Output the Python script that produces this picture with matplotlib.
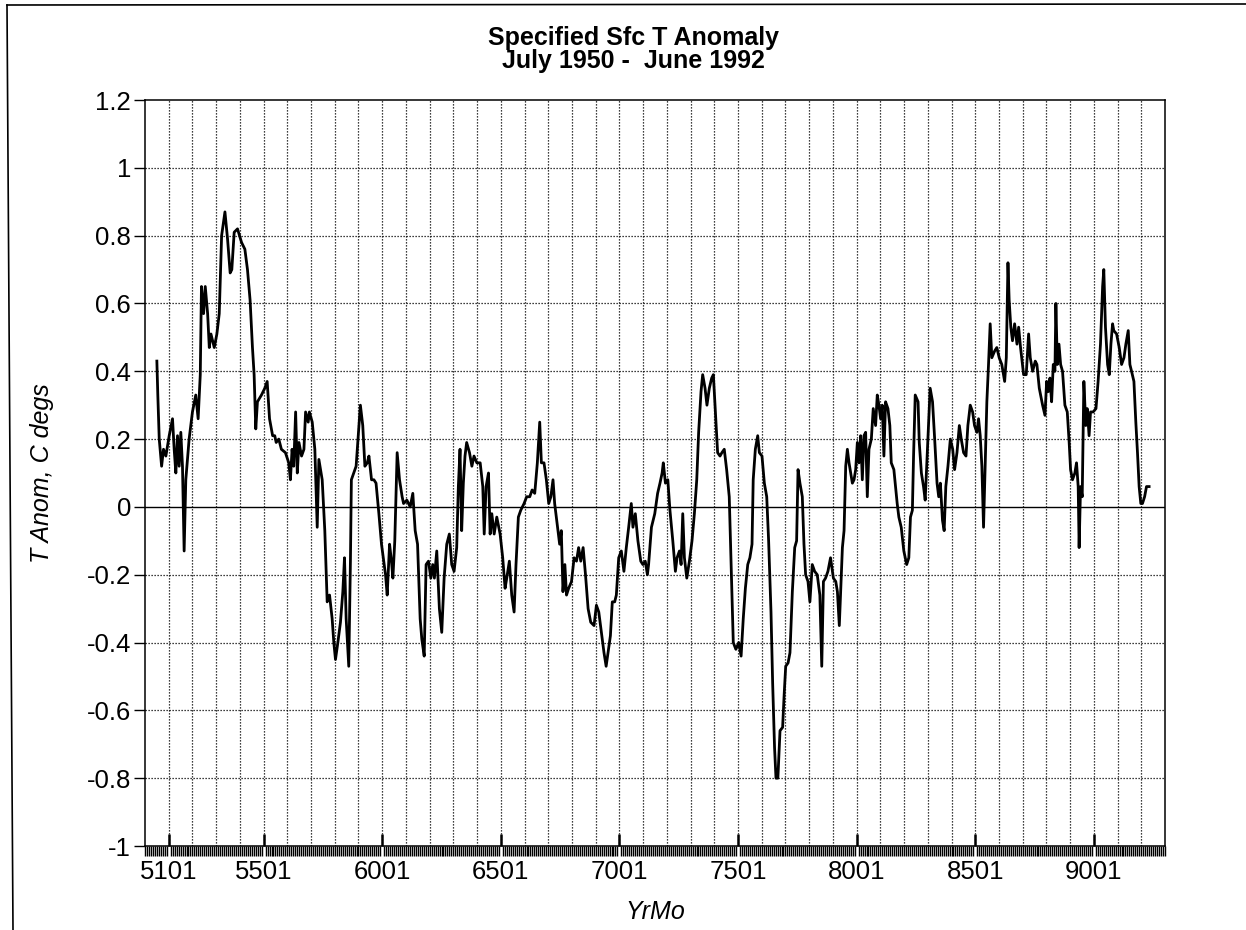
"""Specified surface T anomaly, July 1950 - June 1992 (monthly series)."""

import numpy as np
import matplotlib
matplotlib.use("Agg")
import matplotlib.pyplot as plt
from matplotlib.lines import Line2D

# decimal year / anomaly pairs
yr=[1950.50,1950.54,1950.60,1950.70,1950.78,1950.88,1951.02,1951.16,1951.23,1951.30,
    1951.37,1951.44,1951.51,1951.58,1951.65,1951.72,1951.86,1952.00,1952.14,1952.24,
    1952.33,1952.38,1952.47,1952.54,1952.64,1952.71,1952.78,1952.92,1953.03,1953.13,
    1953.23,1953.37,1953.48,1953.59,1953.66,1953.76,1953.90,1954.07,1954.21,1954.32,
    1954.43,1954.53,1954.60,1954.67,1954.74,1954.91,1955.05,1955.15,1955.25,1955.38,
    1955.47,1955.53,1955.64,1955.75,1955.92,1956.06,1956.13,1956.20,1956.27,1956.35,
    1956.42,1956.49,1956.60,1956.70,1956.77,1956.88,1956.93,1957.05,1957.16,1957.26,
    1957.33,1957.47,1957.58,1957.68,1957.78,1957.89,1957.96,1958.03,1958.13,1958.24,
    1958.34,1958.41,1958.48,1958.59,1958.66,1958.70,1958.80,1958.90,1958.99,1959.08,
    1959.18,1959.27,1959.37,1959.44,1959.55,1959.65,1959.74,1959.86,1959.97,1960.14,
    1960.21,1960.31,1960.39,1960.45,1960.53,1960.63,1960.73,1960.84,
    1960.90,1961.04,1961.18,1961.29,1961.39,1961.49,1961.60,1961.67,1961.77,1961.85,
    1961.95,1962.05,1962.13,1962.20,1962.30,1962.41,1962.51,1962.61,1962.72,1962.83,
    1962.93,1963.03,1963.14,1963.21,1963.28,1963.35,1963.42,1963.49,1963.56,1963.68,
    1963.78,1963.87,1963.99,1964.13,1964.24,1964.30,1964.38,1964.48,1964.55,1964.62,
    1964.72,1964.83,1964.97,1965.08,1965.18,1965.25,1965.36,1965.46,1965.56,1965.64,
    1965.74,1965.84,1965.98,1966.09,
    1966.22,1966.32,1966.43,1966.54,1966.64,1966.71,1966.82,1966.92,1967.02,1967.11,
    1967.20,1967.27,1967.39,1967.48,1967.55,1967.62,1967.70,1967.77,1967.86,1967.98,
    1968.09,1968.19,1968.28,1968.37,1968.47,1968.57,1968.68,1968.79,1968.93,1969.03,
    1969.13,1969.24,1969.35,1969.44,1969.52,1969.62,1969.70,1969.80,1969.87,1969.97,
    1970.08,1970.19,1970.29,1970.39,1970.50,1970.57,1970.67,1970.78,1970.90,1970.99,
    1971.09,1971.18,1971.23,1971.35,1971.49,
    1971.61,1971.71,1971.80,1971.85,1971.94,1972.04,1972.13,1972.25,1972.36,1972.43,
    1972.53,1972.60,1972.67,1972.74,1972.84,1972.95,1973.06,1973.16,1973.26,1973.34,
    1973.44,1973.51,1973.61,1973.69,1973.79,1973.89,1973.96,1974.04,1974.14,1974.24,
    1974.32,1974.42,1974.52,1974.63,1974.72,1974.80,1974.91,1975.03,1975.13,1975.22,
    1975.31,1975.41,1975.50,1975.59,1975.64,1975.73,1975.83,1975.90,1976.01,1976.11,
    1976.21,1976.29,1976.39,1976.46,1976.54,1976.60,1976.68,1976.77,1976.88,1976.94,
    1977.01,1977.11,1977.19,1977.29,1977.39,1977.47,1977.53,1977.61,1977.71,1977.78,
    1977.85,1977.95,1978.03,1978.13,1978.23,1978.34,1978.45,1978.53,1978.60,1978.69,
    1978.79,1978.90,1979.02,1979.12,1979.19,1979.27,1979.33,1979.40,1979.47,1979.54,
    1979.61,1979.68,1979.75,1979.82,1979.89,1979.96,1980.03,1980.10,1980.17,1980.24,
    1980.31,1980.38,1980.45,1980.52,1980.62,1980.70,1980.80,1980.87,1980.94,1981.01,
    1981.08,1981.15,1981.22,1981.32,1981.40,1981.46,1981.57,1981.64,1981.71,1981.78,
    1981.88,1981.99,1982.11,1982.20,1982.27,1982.35,
    1982.40,1982.47,1982.59,1982.64,1982.73,1982.82,1982.89,1982.96,1983.03,1983.10,
    1983.20,1983.29,1983.39,1983.46,1983.53,1983.62,1983.69,1983.76,1983.85,1983.95,
    1984.05,1984.13,1984.23,1984.33,1984.41,1984.51,1984.61,1984.69,1984.79,1984.89,
    1984.97,1985.07,1985.14,1985.21,1985.28,1985.35,1985.42,1985.49,1985.56,1985.63,
    1985.70,1985.82,1985.91,1986.01,1986.12,1986.24,1986.31,1986.38,1986.43,1986.50,
    1986.57,1986.66,1986.76,1986.83,1986.91,1987.04,1987.15,1987.25,1987.32,1987.42,
    1987.53,1987.60,1987.70,1987.81,
    1987.84,1987.94,1988.01,1988.08,1988.15,1988.22,1988.29,1988.36,1988.40,1988.46,
    1988.53,1988.60,1988.68,1988.78,1988.88,1988.96,1989.02,1989.10,1989.20,1989.27,
    1989.34,1989.38,1989.44,1989.51,1989.58,1989.66,1989.72,1989.80,1989.86,1989.97,
    1990.09,1990.18,1990.28,1990.37,1990.42,1990.49,1990.58,1990.65,1990.72,1990.79,
    1990.84,1990.96,1991.07,1991.17,1991.27,1991.35,1991.45,1991.52,1991.59,1991.69,
    1991.77,1991.84,1991.91,1991.98,1992.05,1992.14,1992.22,1992.33]

anom=[0.43,0.33,0.20,0.12,0.17,0.15,0.21,0.26,0.17,0.10,
      0.21,0.12,0.22,0.12,-0.13,0.08,0.20,0.28,0.33,0.26,
      0.39,0.65,0.57,0.65,0.57,0.47,0.51,0.47,0.51,0.57,
      0.80,0.87,0.79,0.69,0.70,0.81,0.82,0.78,0.76,0.70,
      0.61,0.47,0.39,0.23,0.31,0.33,0.35,0.37,0.26,0.21,
      0.21,0.19,0.20,0.17,0.16,0.13,0.08,0.17,0.12,0.28,
      0.10,0.19,0.15,0.17,0.28,0.25,0.28,0.25,0.17,-0.06,
      0.14,0.08,-0.07,-0.28,-0.26,-0.33,-0.40,-0.45,-0.40,-0.34,
      -0.25,-0.15,-0.33,-0.47,-0.16,0.08,0.10,0.12,0.21,0.30,
      0.24,0.12,0.13,0.15,0.08,0.08,0.07,-0.02,-0.11,-0.20,
      -0.26,-0.11,-0.16,-0.21,-0.10,0.16,0.08,0.03,
      0.01,0.02,0.00,0.04,-0.07,-0.11,-0.33,-0.39,-0.44,-0.17,
      -0.16,-0.21,-0.17,-0.21,-0.13,-0.30,-0.37,-0.21,-0.11,-0.08,
      -0.17,-0.19,-0.12,0.06,0.17,-0.07,0.07,0.15,0.19,0.16,
      0.12,0.15,0.13,0.13,0.06,-0.08,0.06,0.10,-0.08,-0.02,
      -0.08,-0.03,-0.08,-0.15,-0.24,-0.21,-0.16,-0.26,-0.31,-0.17,
      -0.03,-0.01,0.01,0.03,
      0.03,0.05,0.04,0.13,0.25,0.13,0.13,0.08,0.01,0.03,
      0.08,0.01,-0.06,-0.11,-0.07,-0.25,-0.17,-0.26,-0.24,-0.22,
      -0.15,-0.16,-0.12,-0.16,-0.12,-0.20,-0.30,-0.34,-0.35,-0.29,
      -0.31,-0.37,-0.43,-0.47,-0.43,-0.38,-0.28,-0.28,-0.26,-0.15,
      -0.13,-0.19,-0.12,-0.06,0.01,-0.06,-0.02,-0.10,-0.16,-0.17,
      -0.16,-0.20,-0.17,-0.06,-0.02,
      0.04,0.07,0.10,0.13,0.07,0.08,-0.01,-0.10,-0.19,-0.15,
      -0.13,-0.17,-0.02,-0.15,-0.21,-0.16,-0.10,-0.02,0.08,0.22,
      0.34,0.39,0.35,0.30,0.35,0.38,0.39,0.29,0.16,0.15,
      0.16,0.17,0.11,0.03,-0.20,-0.40,-0.42,-0.40,-0.44,-0.33,
      -0.24,-0.17,-0.15,-0.11,0.08,0.17,0.21,0.16,0.15,0.07,
      0.03,-0.10,-0.31,-0.52,-0.71,-0.80,-0.80,-0.66,-0.65,-0.56,
      -0.47,-0.46,-0.43,-0.25,-0.12,-0.10,0.11,0.07,0.03,-0.11,
      -0.20,-0.22,-0.28,-0.17,-0.19,-0.20,-0.26,-0.47,-0.22,-0.21,
      -0.19,-0.15,-0.21,-0.22,-0.25,-0.35,-0.24,-0.12,-0.07,0.12,
      0.17,0.13,0.10,0.07,0.08,0.11,0.19,0.13,0.21,0.08,
      0.21,0.22,0.03,0.17,0.20,0.29,0.24,0.33,0.30,0.26,
      0.30,0.15,0.31,0.29,0.24,0.13,0.11,0.06,0.01,-0.03,
      -0.06,-0.13,-0.17,-0.15,-0.03,-0.01,
      0.15,0.33,0.31,0.19,0.10,0.06,0.02,0.13,0.24,0.35,
      0.31,0.20,0.07,0.03,0.07,-0.04,-0.07,0.06,0.12,0.20,
      0.17,0.11,0.16,0.24,0.20,0.16,0.15,0.24,0.30,0.28,
      0.24,0.22,0.26,0.21,0.12,-0.06,0.13,0.31,0.42,0.54,
      0.44,0.46,0.47,0.44,0.42,0.37,0.44,0.72,0.61,0.53,
      0.49,0.54,0.48,0.53,0.47,0.39,0.39,0.51,0.44,0.40,
      0.43,0.42,0.35,0.31,
      0.30,0.27,0.37,0.34,0.38,0.31,0.42,0.40,0.60,0.42,
      0.48,0.42,0.40,0.30,0.28,0.19,0.11,0.08,0.10,0.13,
      0.06,-0.12,0.06,0.03,0.37,0.24,0.29,0.21,0.28,0.28,
      0.29,0.37,0.48,0.65,0.70,0.53,0.42,0.39,0.48,0.54,
      0.52,0.51,0.47,0.42,0.44,0.48,0.52,0.42,0.40,0.37,
      0.25,0.16,0.06,0.01,0.01,0.03,0.06,0.06]

ytick_vals=[1.2,1.0,0.8,0.6,0.4,0.2,0.0,-0.2,-0.4,-0.6,-0.8,-1.0]
ytick_labels=['1.2','1','0.8','0.6','0.4','0.2','0','-0.2','-0.4','-0.6','-0.8','-1']
xtick_years=[1951,1955,1960,1965,1970,1975,1980,1985,1990]
xtick_labels=['5101','5501','6001','6501','7001','7501','8001','8501','9001']

plt.rcParams['font.family']=['Liberation Sans','DejaVu Sans']


def anomaly_plot(fname='out.png'):
    """Draw the anomaly time series in the style of the old printout."""
    fig=plt.figure(figsize=(12.46,9.30),dpi=100)
    ax=fig.add_axes([145/1246,1-846/930,1020/1246,746/930])

    # yearly dotted grid, solid zero line
    dots=(0,(1,1.4))
    ax.vlines(np.arange(1951,1993),-1,1.2,colors='black',linestyles=dots,lw=0.9,zorder=1)
    for v in ytick_vals[1:-1]:
        if v==0:
            ax.axhline(0,color='black',lw=1.0,zorder=1)
        else:
            ax.axhline(v,color='black',ls=dots,lw=0.9,zorder=1)

    ax.plot(yr,anom,color='black',lw=2.0,zorder=3)

    ax.set_xlim(1950,1993)
    ax.set_ylim(-1,1.2)
    ax.set_yticks(ytick_vals)
    ax.set_yticklabels(ytick_labels)
    ax.set_xticks(xtick_years)
    ax.set_xticklabels(xtick_labels)
    ax.set_xticks(np.arange(1950,1993.001,1/12),minor=True)
    ax.tick_params(axis='x',which='major',direction='in',length=9,width=1.8,pad=10,labelsize=18.5)
    ax.tick_params(axis='x',which='minor',direction='out',length=7,width=1.0)
    ax.tick_params(axis='y',which='major',direction='out',length=8,width=1.0,pad=2,labelsize=18.5)
    for sp in ax.spines.values():
        sp.set_linewidth(1.1)

    ax.set_xlabel('YrMo',fontsize=18,style='italic')
    ax.xaxis.set_label_coords(0.5,-0.073)
    ax.set_ylabel('T Anom, C degs',fontsize=18,style='italic')
    ax.yaxis.set_label_coords(-0.089,0.5)

    fig.text(633/1246,1-38/930,'Specified Sfc T Anomaly',ha='center',va='center',
             fontsize=18,fontweight='bold')
    fig.text(633/1246,1-61/930,'July 1950 -  June 1992',ha='center',va='center',
             fontsize=18,fontweight='bold')

    # page edge of the scanned sheet
    fig.add_artist(Line2D([7/1246,13/1246],[1-5/930,0],transform=fig.transFigure,color='black',lw=1.2))
    fig.add_artist(Line2D([7/1246,1],[1-5/930,1-4/930],transform=fig.transFigure,color='black',lw=1.2))

    fig.savefig(fname,dpi=100)
    return fig,ax


if __name__=="__main__":
    anomaly_plot()
